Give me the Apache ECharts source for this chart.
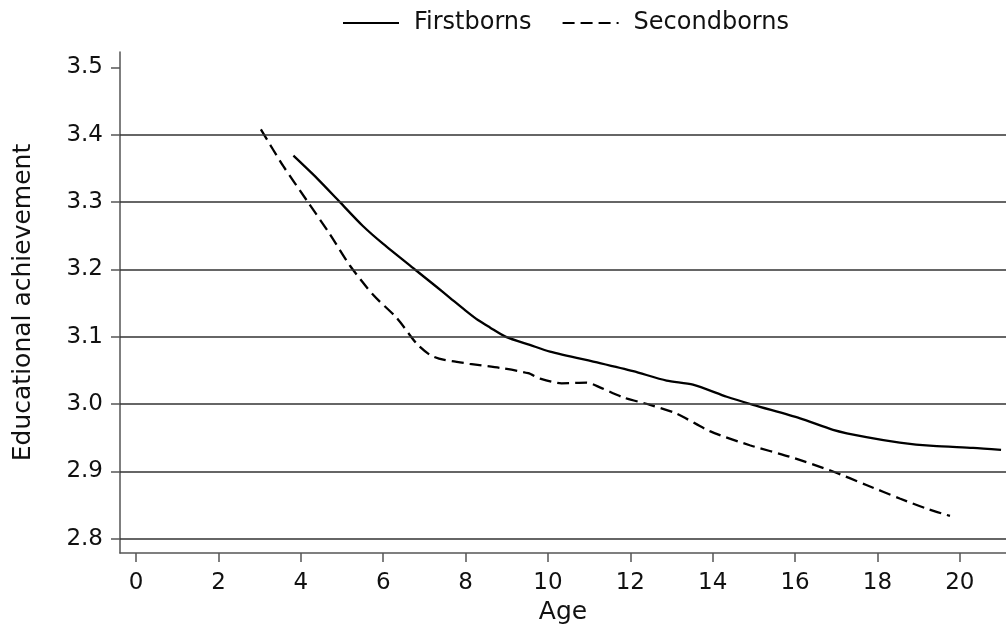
<!DOCTYPE html>
<html>
<head>
<meta charset="UTF-8">
<title>Educational achievement by age</title>
<script src="https://cdn.jsdelivr.net/npm/echarts@6/dist/echarts.min.js"></script>
<style>
  * { margin: 0; padding: 0; }
  body { background: #fff; }
  #main { width: 1006px; height: 631px; }
</style>
</head>
<body>
<div id="main"></div>
<script>
// values
var firstAge   = [3.82, 4.4, 4.95, 5.5, 6.0, 6.77, 7.3, 7.62, 8.0, 8.3, 8.59, 8.98, 9.56, 10.05, 11.26, 12.07, 12.88, 13.52, 14.34, 14.98, 16.12, 16.92, 17.73, 18.54, 19.35, 20.32, 21.0];
var firstScore = [3.369, 3.335, 3.300, 3.265, 3.238, 3.200, 3.174, 3.158, 3.139, 3.125, 3.114, 3.100, 3.088, 3.078, 3.061, 3.049, 3.035, 3.029, 3.011, 2.999, 2.979, 2.962, 2.951, 2.943, 2.938, 2.935, 2.932];

var secondAge   = [3.03, 3.58, 4.14, 4.71, 5.19, 5.76, 6.33, 6.81, 7.14, 7.46, 8.1, 8.83, 9.52, 9.81, 10.33, 10.94, 11.26, 11.83, 12.48, 13.12, 13.93, 14.9, 15.87, 16.92, 17.73, 18.54, 19.19, 19.76];
var secondScore = [3.408, 3.353, 3.303, 3.252, 3.206, 3.162, 3.128, 3.090, 3.073, 3.066, 3.060, 3.054, 3.046, 3.038, 3.031, 3.032, 3.025, 3.010, 2.999, 2.986, 2.960, 2.939, 2.922, 2.900, 2.880, 2.860, 2.845, 2.834];

var xTicks = [0, 2, 4, 6, 8, 10, 12, 14, 16, 18, 20];
var yTicks = [2.8, 2.9, 3.0, 3.1, 3.2, 3.3, 3.4, 3.5];
var gridLines = [2.8, 2.9, 3.0, 3.1, 3.2, 3.3, 3.4];

function pairs(xs, ys) {
  var out = [];
  for (var i = 0; i < xs.length; i++) out.push([xs[i], ys[i]]);
  return out;
}

var font = 'DejaVu Sans';
var chart = echarts.init(document.getElementById('main'));

chart.setOption({
  animation: false,
  backgroundColor: '#fff',
  textStyle: { fontFamily: font, color: '#111' },
  legend: {
    top: 6,
    left: 337,
    itemWidth: 56,
    itemHeight: 14,
    itemGap: 30,
    itemStyle: { opacity: 0 },
    textStyle: { fontFamily: font, fontSize: 24, color: '#111', padding: [0, 0, 0, 10] },
    data: ['Firstborns', 'Secondborns']
  },
  grid: { left: 120, right: 0, top: 52, bottom: 78, containLabel: false },
  xAxis: {
    type: 'value',
    min: -0.39,
    max: 21.12,
    name: 'Age',
    nameLocation: 'middle',
    nameGap: 45,
    nameTextStyle: { fontFamily: font, fontSize: 25, color: '#111' },
    axisLine: { show: true, lineStyle: { color: '#555', width: 1.5 } },
    axisTick: { show: true, length: 9, customValues: xTicks, lineStyle: { color: '#555', width: 1.5 } },
    axisLabel: { customValues: xTicks, margin: 19, fontFamily: font, fontSize: 23, color: '#111' },
    splitLine: { show: false }
  },
  yAxis: {
    type: 'value',
    min: 2.779,
    max: 3.523,
    name: 'Educational achievement',
    nameLocation: 'middle',
    nameGap: 84,
    nameTextStyle: { fontFamily: font, fontSize: 25, color: '#111' },
    axisLine: { show: true, onZero: false, lineStyle: { color: '#555', width: 1.5 } },
    axisTick: { show: true, length: 9, customValues: yTicks, lineStyle: { color: '#555', width: 1.5 } },
    axisLabel: {
      customValues: yTicks,
      margin: 17,
      fontFamily: font,
      fontSize: 23,
      color: '#111',
      formatter: function (v) { return v.toFixed(1); }
    },
    splitLine: { show: false }
  },
  series: [
    {
      name: 'Firstborns',
      type: 'line',
      data: pairs(firstAge, firstScore),
      smooth: 0.25,
      symbol: 'none',
      lineStyle: { color: '#000', width: 2.3, type: 'solid' },
      itemStyle: { color: '#000' },
      markLine: {
        silent: true,
        symbol: 'none',
        label: { show: false },
        lineStyle: { color: '#333', width: 1.5, type: 'solid' },
        data: gridLines.map(function (v) { return { yAxis: v }; })
      },
      z: 3
    },
    {
      name: 'Secondborns',
      type: 'line',
      data: pairs(secondAge, secondScore),
      smooth: 0.25,
      symbol: 'none',
      lineStyle: { color: '#000', width: 2.3, type: [12, 6] },
      itemStyle: { color: '#000' },
      z: 3
    }
  ]
});
</script>
</body>
</html>
